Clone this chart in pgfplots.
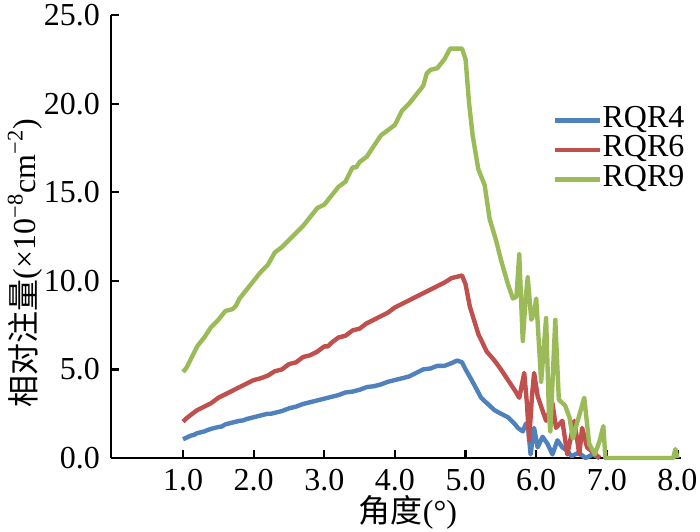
\documentclass[border=0pt]{standalone}
\usepackage{pgfplots}
\pgfplotsset{compat=1.18}
\usepackage{fontspec}
\setmainfont{Liberation Serif}
\newfontfamily\cjk{Noto Sans CJK SC}
\definecolor{cblue}{HTML}{4F81BD}
\definecolor{cred}{HTML}{C0504D}
\definecolor{cgreen}{HTML}{9BBB59}
\begin{document}
\fontsize{16}{19}\selectfont
\begin{tikzpicture}
\begin{axis}[
  scale only axis,
  width=285pt, height=221.5pt,
  xmin=-0.02, xmax=8.05,
  ymin=0, ymax=25,
  axis lines*=left,
  axis line style={line width=1.1pt},
  tick style={line width=1.1pt, black},
  major tick length=4pt,
  tick align=inside,
  xtick={1,2,3,4,5,6,7,8},
  ytick={0,5,10,15,20,25},
  /pgf/number format/assume math mode=true,
  xticklabel style={/pgf/number format/.cd, fixed, fixed zerofill, precision=1, /tikz/.cd, inner sep=1pt, yshift=-4.3pt},
  yticklabel style={/pgf/number format/.cd, fixed, fixed zerofill, precision=1, /tikz/.cd, inner sep=1pt, xshift=-4.3pt},
  tick label style={font=\fontsize{16}{19}\selectfont},
  xlabel={{\cjk 角度}(°)},
  ylabel={{\cjk 相对注量}(×10\textsuperscript{−8}cm\textsuperscript{−2})},
  label style={font=\fontsize{16}{19}\selectfont},
  xlabel style={at={(axis description cs:0.521,-0.122)}, anchor=center, inner sep=0pt},
  ylabel style={at={(axis description cs:-0.151,0.44)}, anchor=center},
  clip=false,
  legend cell align=left,
  legend style={draw=none, fill=none, at={(axis description cs:0.775,0.796)}, anchor=north west,
    font=\fontsize{16}{19}\selectfont, row sep=0pt, inner sep=0pt,
    nodes={inner sep=0pt, text height=10.75pt, text depth=4pt},
    /tikz/every even column/.append style={column sep=2.5pt}},
  legend image code/.code={\draw[#1, line width=2.2pt] (0pt,0pt) -- (22.5pt,0pt);},
  every axis plot/.append style={line width=2.2pt, line join=round, mark=none},
]
\addplot[cblue] coordinates {
(1.0,1.06)(1.05,1.15)(1.1,1.25)(1.15,1.3)(1.2,1.4)(1.3,1.5)(1.35,1.58)(1.4,1.65)(1.5,1.75)(1.55,1.78)(1.6,1.9)(1.7,2.0)(1.8,2.1)(1.85,2.12)(1.9,2.2)(2.0,2.3)(2.1,2.4)(2.2,2.5)(2.25,2.5)(2.3,2.55)(2.4,2.65)(2.5,2.8)(2.6,2.9)(2.7,3.05)(2.8,3.15)(2.9,3.25)(3.0,3.35)(3.1,3.45)(3.2,3.55)(3.3,3.7)(3.4,3.75)(3.5,3.85)(3.6,4.0)(3.7,4.05)(3.8,4.15)(3.9,4.3)(4.0,4.4)(4.1,4.5)(4.2,4.6)(4.3,4.8)(4.4,5.0)(4.5,5.05)(4.6,5.2)(4.7,5.2)(4.8,5.35)(4.88,5.5)(4.95,5.4)(5.0,5.0)(5.1,4.3)(5.22,3.4)(5.3,3.1)(5.41,2.7)(5.5,2.5)(5.6,2.3)(5.7,1.9)(5.74,1.7)(5.81,1.5)(5.85,1.9)(5.88,2.0)(5.92,0.2)(5.97,1.7)(6.02,0.6)(6.09,1.2)(6.16,0.8)(6.23,0.2)(6.3,1.0)(6.37,0.6)(6.44,0.4)(6.5,0.1)(6.6,0.3)(6.7,0.0)(6.8,0.2)(6.9,0.0)
};
\addplot[cred] coordinates {
(1.0,2.05)(1.05,2.25)(1.1,2.4)(1.2,2.7)(1.3,2.9)(1.4,3.1)(1.5,3.4)(1.6,3.6)(1.7,3.8)(1.8,4.0)(1.9,4.2)(2.0,4.4)(2.1,4.5)(2.2,4.65)(2.3,4.9)(2.4,5.0)(2.5,5.3)(2.6,5.4)(2.7,5.7)(2.8,5.8)(2.9,6.0)(3.0,6.3)(3.05,6.3)(3.1,6.5)(3.2,6.8)(3.3,6.9)(3.4,7.2)(3.5,7.3)(3.6,7.6)(3.7,7.8)(3.8,8.0)(3.9,8.2)(4.0,8.5)(4.1,8.7)(4.2,8.9)(4.3,9.1)(4.4,9.3)(4.5,9.5)(4.6,9.7)(4.7,9.9)(4.8,10.15)(4.9,10.25)(4.95,10.3)(5.0,9.8)(5.06,8.55)(5.18,7.0)(5.3,6.0)(5.41,5.5)(5.5,5.0)(5.6,4.4)(5.7,3.8)(5.76,3.4)(5.8,4.2)(5.83,4.8)(5.87,3.0)(5.9,1.0)(5.94,3.5)(5.97,4.8)(6.02,3.5)(6.07,2.9)(6.14,2.1)(6.23,3.1)(6.28,1.7)(6.37,2.1)(6.44,0.2)(6.54,2.1)(6.61,0.2)(6.65,1.7)(6.72,0.6)(6.78,0.4)(6.84,0.2)(6.9,0.0)
};
\addplot[cgreen] coordinates {
(1.0,4.85)(1.05,5.1)(1.1,5.5)(1.2,6.3)(1.3,6.8)(1.4,7.4)(1.5,7.8)(1.6,8.3)(1.7,8.4)(1.75,8.6)(1.8,9.0)(1.9,9.5)(2.0,10.0)(2.1,10.5)(2.2,10.9)(2.3,11.6)(2.4,11.9)(2.5,12.3)(2.6,12.7)(2.7,13.1)(2.8,13.6)(2.9,14.1)(3.0,14.3)(3.1,14.8)(3.2,15.3)(3.3,15.6)(3.4,16.4)(3.45,16.4)(3.5,16.7)(3.6,17.0)(3.7,17.6)(3.8,18.2)(3.9,18.5)(4.0,18.8)(4.1,19.6)(4.2,20.0)(4.3,20.5)(4.4,21.0)(4.45,21.7)(4.5,21.9)(4.6,22.0)(4.7,22.5)(4.78,23.1)(4.85,23.1)(4.95,23.1)(5.0,22.5)(5.05,20.0)(5.1,18.2)(5.18,16.3)(5.27,15.4)(5.34,13.5)(5.43,12.3)(5.5,11.2)(5.6,9.8)(5.67,9.0)(5.72,9.1)(5.76,11.5)(5.8,7.5)(5.81,6.6)(5.85,9.0)(5.88,10.2)(5.93,7.8)(5.97,8.2)(6.0,9.0)(6.03,7.0)(6.07,4.3)(6.14,7.9)(6.18,2.5)(6.2,1.5)(6.27,7.8)(6.32,3.3)(6.41,2.95)(6.47,2.3)(6.52,1.1)(6.58,2.0)(6.68,3.4)(6.75,0.8)(6.83,0.2)(6.9,1.0)(6.95,1.8)(6.98,0.0)(7.5,0.0)(7.94,0.0)(7.97,0.5)(8.0,0.0)
};
\legend{RQR4,RQR6,RQR9}
\end{axis}
\pgfresetboundingbox
\path (current axis.south west) ++(-55.5pt,-36.5pt) rectangle ++(350pt,265.5pt);
\end{tikzpicture}
\end{document}
